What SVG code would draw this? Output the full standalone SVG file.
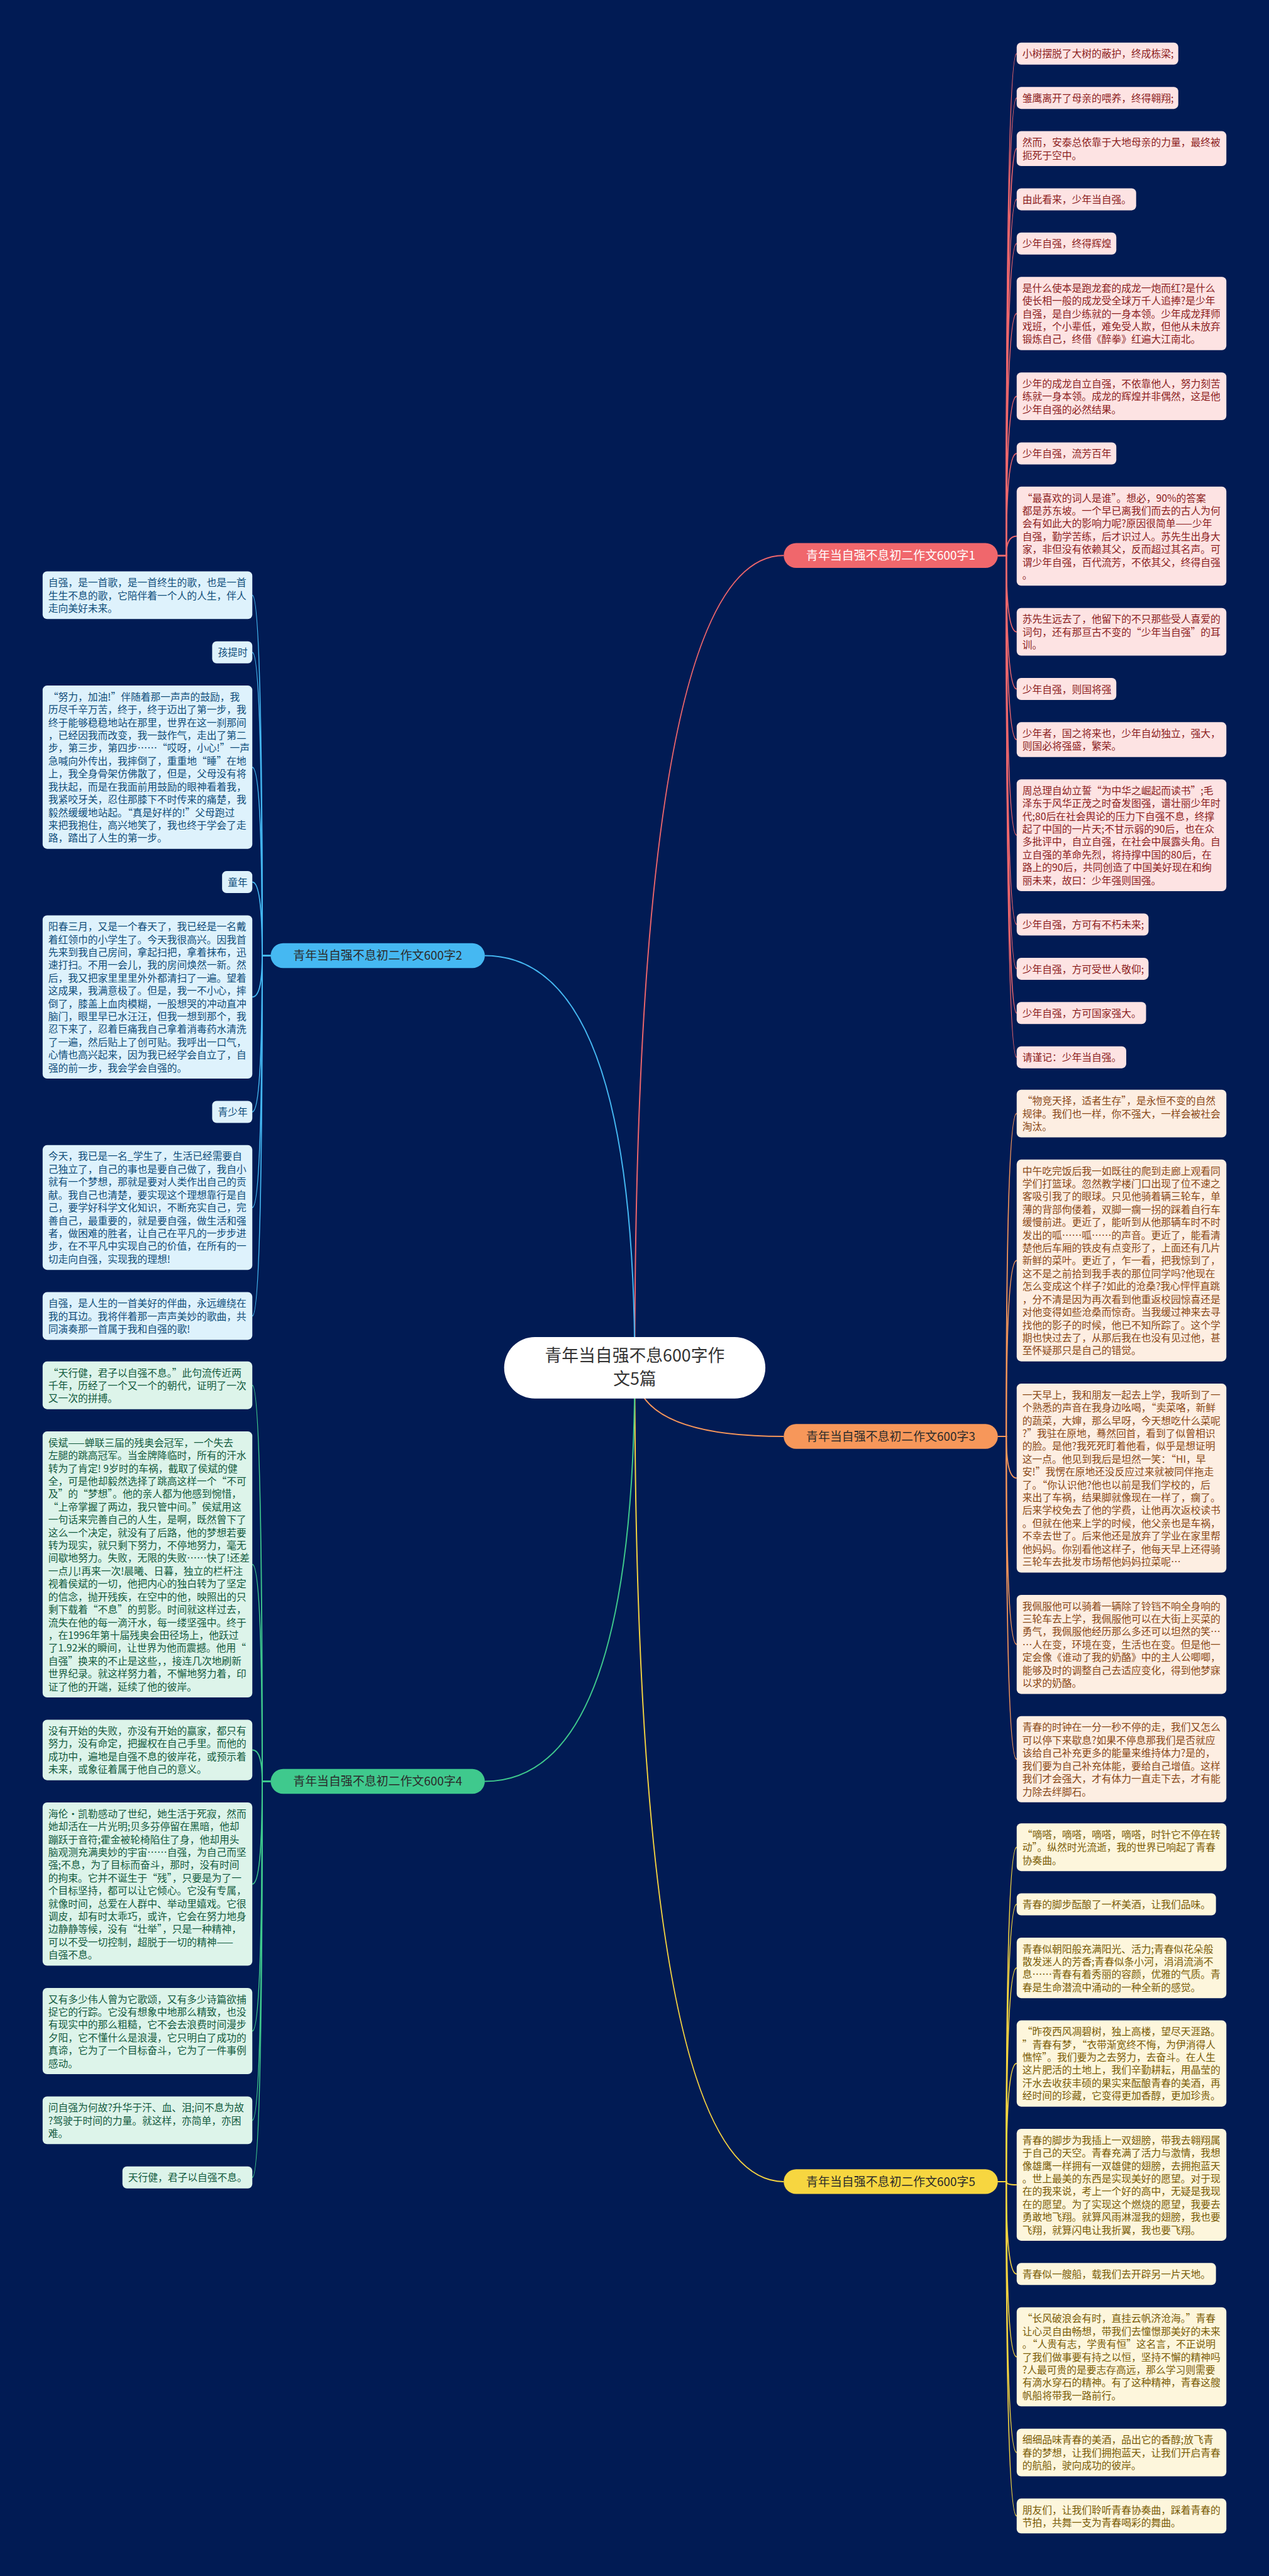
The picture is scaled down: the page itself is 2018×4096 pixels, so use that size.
<svg xmlns="http://www.w3.org/2000/svg" width="2018" height="4096" viewBox="0 0 2018 4096">
<style>
.t{font-family:"Noto Sans CJK SC","Noto Sans",sans-serif;font-size:20px}
.p{font-family:"Noto Sans CJK SC","Noto Sans",sans-serif;font-size:24px;text-anchor:middle}
.ln{fill:none;stroke-width:2.5}
.l1{stroke:#f0676c}.l2{stroke:#45b8f2}.l3{stroke:#f7975a}.l4{stroke:#3fc98d}.l5{stroke:#f7d640}
.k1 rect{fill:#fde3e3}.k1 text{fill:#8c1d1d}
.k2 rect{fill:#def2fc}.k2 text{fill:#0f4d7a}
.k3 rect{fill:#fdeee2}.k3 text{fill:#8a4816}
.k4 rect{fill:#ddf4ea}.k4 text{fill:#125a3e}
.k5 rect{fill:#fdf6dc}.k5 text{fill:#7a5c06}
</style>
<rect width="2018" height="4096" fill="#011b54"/>
<g transform="scale(0.78828)">
<g id="connectors">
<path class="ln l1" d="M1280.5 2759 Q1280.5 1120.45 1581 1120.45"/>
<path class="ln l3" d="M1280.5 2759 Q1280.5 2897.4 1581 2897.4"/>
<path class="ln l5" d="M1280.5 2759 Q1280.5 4400.6 1581 4400.6"/>
<path class="ln l2" d="M1280.5 2759 Q1280.5 1927.55 978 1927.55"/>
<path class="ln l4" d="M1280.5 2759 Q1280.5 3593.25 978 3593.25"/>
<g class="ln l1">
<path d="M2013 1120.45 H2030 Q2030 108.2 2051 108.2"/>
<path d="M2013 1120.45 H2030 Q2030 197.5 2051 197.5"/>
<path d="M2013 1120.45 H2030 Q2030 299.75 2051 299.75"/>
<path d="M2013 1120.45 H2030 Q2030 402 2051 402"/>
<path d="M2013 1120.45 H2030 Q2030 491.3 2051 491.3"/>
<path d="M2013 1120.45 H2030 Q2030 632.4 2051 632.4"/>
<path d="M2013 1120.45 H2030 Q2030 799.4 2051 799.4"/>
<path d="M2013 1120.45 H2030 Q2030 914.6 2051 914.6"/>
<path d="M2013 1120.45 H2030 Q2030 1081.6 2051 1081.6"/>
<path d="M2013 1120.45 H2030 Q2030 1274.5 2051 1274.5"/>
<path d="M2013 1120.45 H2030 Q2030 1389.7 2051 1389.7"/>
<path d="M2013 1120.45 H2030 Q2030 1491.95 2051 1491.95"/>
<path d="M2013 1120.45 H2030 Q2030 1684.85 2051 1684.85"/>
<path d="M2013 1120.45 H2030 Q2030 1864.8 2051 1864.8"/>
<path d="M2013 1120.45 H2030 Q2030 1954.1 2051 1954.1"/>
<path d="M2013 1120.45 H2030 Q2030 2043.4 2051 2043.4"/>
<path d="M2013 1120.45 H2030 Q2030 2132.7 2051 2132.7"/>
</g>
<g class="ln l3">
<path d="M2013 2897.4 H2030 Q2030 2246.1 2051 2246.1"/>
<path d="M2013 2897.4 H2030 Q2030 2542.6 2051 2542.6"/>
<path d="M2013 2897.4 H2030 Q2030 2981.55 2051 2981.55"/>
<path d="M2013 2897.4 H2030 Q2030 3316.9 2051 3316.9"/>
<path d="M2013 2897.4 H2030 Q2030 3548.65 2051 3548.65"/>
</g>
<g class="ln l5">
<path d="M2013 4400.6 H2030 Q2030 3726.1 2051 3726.1"/>
<path d="M2013 4400.6 H2030 Q2030 3841.3 2051 3841.3"/>
<path d="M2013 4400.6 H2030 Q2030 3969.45 2051 3969.45"/>
<path d="M2013 4400.6 H2030 Q2030 4162.35 2051 4162.35"/>
<path d="M2013 4400.6 H2030 Q2030 4407.05 2051 4407.05"/>
<path d="M2013 4400.6 H2030 Q2030 4587 2051 4587"/>
<path d="M2013 4400.6 H2030 Q2030 4754 2051 4754"/>
<path d="M2013 4400.6 H2030 Q2030 4946.9 2051 4946.9"/>
<path d="M2013 4400.6 H2030 Q2030 5075.05 2051 5075.05"/>
</g>
<g class="ln l2">
<path d="M546 1927.55 H529 Q529 1200.6 509 1200.6"/>
<path d="M546 1927.55 H529 Q529 1315.8 509 1315.8"/>
<path d="M546 1927.55 H529 Q529 1547.55 509 1547.55"/>
<path d="M546 1927.55 H529 Q529 1779.3 509 1779.3"/>
<path d="M546 1927.55 H529 Q529 2011.05 509 2011.05"/>
<path d="M546 1927.55 H529 Q529 2242.8 509 2242.8"/>
<path d="M546 1927.55 H529 Q529 2435.7 509 2435.7"/>
<path d="M546 1927.55 H529 Q529 2654.5 509 2654.5"/>
</g>
<g class="ln l4">
<path d="M546 3593.25 H529 Q529 2794.4 509 2794.4"/>
<path d="M546 3593.25 H529 Q529 3155.65 509 3155.65"/>
<path d="M546 3593.25 H529 Q529 3529.85 509 3529.85"/>
<path d="M546 3593.25 H529 Q529 3800.45 509 3800.45"/>
<path d="M546 3593.25 H529 Q529 4096.95 509 4096.95"/>
<path d="M546 3593.25 H529 Q529 4276.9 509 4276.9"/>
<path d="M546 3593.25 H529 Q529 4392.1 509 4392.1"/>
</g>
</g>

<g id="center">
<rect x="1017" y="2697" width="527" height="124" rx="62" fill="#ffffff"/>
<text font-family="Noto Sans CJK SC, sans-serif" font-size="34" fill="#333333" text-anchor="middle"><tspan x="1280.5" y="2747">青年当自强不息600字作</tspan><tspan x="1280.5" y="2793">文5篇</tspan></text>
</g>

<g id="topic1"><rect x="1581" y="1095.45" width="432" height="50" rx="25" fill="#f0676c"/><text class="p" x="1797" y="1129" fill="#ffffff">青年当自强不息初二作文600字1</text></g>
<g id="topic3"><rect x="1581" y="2872.4" width="432" height="50" rx="25" fill="#f7975a"/><text class="p" x="1797" y="2906" fill="#2b2b2b">青年当自强不息初二作文600字3</text></g>
<g id="topic5"><rect x="1581" y="4375.6" width="432" height="50" rx="25" fill="#f7d640"/><text class="p" x="1797" y="4409" fill="#2b2b2b">青年当自强不息初二作文600字5</text></g>
<g id="topic2"><rect x="546" y="1902.55" width="432" height="50" rx="25" fill="#45b8f2"/><text class="p" x="762" y="1936" fill="#2b2b2b">青年当自强不息初二作文600字2</text></g>
<g id="topic4"><rect x="546" y="3568.25" width="432" height="50" rx="25" fill="#3fc98d"/><text class="p" x="762" y="3602" fill="#2b2b2b">青年当自强不息初二作文600字4</text></g>

<g id="b1" class="k1">
<g id="n1-1"><rect x="2051" y="86" width="326" height="44.4" rx="9"/><text class="t"><tspan x="2062.5" y="116">小树摆脱了大树的蔽护，终成栋梁;</tspan></text></g>
<g id="n1-2"><rect x="2051" y="175.3" width="326" height="44.4" rx="9"/><text class="t"><tspan x="2062.5" y="205.3">雏鹰离开了母亲的喂养，终得翱翔;</tspan></text></g>
<g id="n1-3"><rect x="2051" y="264.6" width="423" height="70.3" rx="9"/><text class="t"><tspan x="2062.5" y="294.6">然而，安泰总依靠于大地母亲的力量，最终被</tspan><tspan x="2062.5" y="320.5">扼死于空中。</tspan></text></g>
<g id="n1-4"><rect x="2051" y="379.8" width="241" height="44.4" rx="9"/><text class="t"><tspan x="2062.5" y="409.8">由此看来，少年当自强。</tspan></text></g>
<g id="n1-5"><rect x="2051" y="469.1" width="201" height="44.4" rx="9"/><text class="t"><tspan x="2062.5" y="499.1">少年自强，终得辉煌</tspan></text></g>
<g id="n1-6"><rect x="2051" y="558.4" width="423" height="148" rx="9"/><text class="t"><tspan x="2062.5" y="588.4">是什么使本是跑龙套的成龙一炮而红?是什么</tspan><tspan x="2062.5" y="614.3">使长相一般的成龙受全球万千人追捧?是少年</tspan><tspan x="2062.5" y="640.2">自强，是自少练就的一身本领。少年成龙拜师</tspan><tspan x="2062.5" y="666.1">戏班，个小辈低，难免受人欺，但他从未放弃</tspan><tspan x="2062.5" y="692">锻炼自己，终借《醉拳》红遍大江南北。</tspan></text></g>
<g id="n1-7"><rect x="2051" y="751.3" width="423" height="96.2" rx="9"/><text class="t"><tspan x="2062.5" y="781.3">少年的成龙自立自强，不依靠他人，努力刻苦</tspan><tspan x="2062.5" y="807.2">练就一身本领。成龙的辉煌并非偶然，这是他</tspan><tspan x="2062.5" y="833.1">少年自强的必然结果。</tspan></text></g>
<g id="n1-8"><rect x="2051" y="892.4" width="201" height="44.4" rx="9"/><text class="t"><tspan x="2062.5" y="922.4">少年自强，流芳百年</tspan></text></g>
<g id="n1-9"><rect x="2051" y="981.7" width="423" height="199.8" rx="9"/><text class="t"><tspan x="2062.5" y="1011.7">“最喜欢的词人是谁”。想必，90%的答案</tspan><tspan x="2062.5" y="1037.6">都是苏东坡。一个早已离我们而去的古人为何</tspan><tspan x="2062.5" y="1063.5">会有如此大的影响力呢?原因很简单——少年</tspan><tspan x="2062.5" y="1089.4">自强，勤学苦练，后才识过人。苏先生出身大</tspan><tspan x="2062.5" y="1115.3">家，非但没有依赖其父，反而超过其名声。可</tspan><tspan x="2062.5" y="1141.2">谓少年自强，百代流芳，不依其父，终得自强</tspan><tspan x="2062.5" y="1167.1">。</tspan></text></g>
<g id="n1-10"><rect x="2051" y="1226.4" width="423" height="96.2" rx="9"/><text class="t"><tspan x="2062.5" y="1256.4">苏先生远去了，他留下的不只那些受人喜爱的</tspan><tspan x="2062.5" y="1282.3">词句，还有那亘古不变的“少年当自强”的耳</tspan><tspan x="2062.5" y="1308.2">训。</tspan></text></g>
<g id="n1-11"><rect x="2051" y="1367.5" width="201" height="44.4" rx="9"/><text class="t"><tspan x="2062.5" y="1397.5">少年自强，则国将强</tspan></text></g>
<g id="n1-12"><rect x="2051" y="1456.8" width="423" height="70.3" rx="9"/><text class="t"><tspan x="2062.5" y="1486.8">少年者，国之将来也，少年自幼独立，强大，</tspan><tspan x="2062.5" y="1512.7">则国必将强盛，繁荣。</tspan></text></g>
<g id="n1-13"><rect x="2051" y="1572" width="423" height="225.7" rx="9"/><text class="t"><tspan x="2062.5" y="1602">周总理自幼立誓“为中华之崛起而读书”;毛</tspan><tspan x="2062.5" y="1627.9">泽东于风华正茂之时奋发图强，谱壮丽少年时</tspan><tspan x="2062.5" y="1653.8">代;80后在社会舆论的压力下自强不息，终撑</tspan><tspan x="2062.5" y="1679.7">起了中国的一片天;不甘示弱的90后，也在众</tspan><tspan x="2062.5" y="1705.6">多批评中，自立自强，在社会中展露头角。自</tspan><tspan x="2062.5" y="1731.5">立自强的革命先烈，将持撑中国的80后，在</tspan><tspan x="2062.5" y="1757.4">路上的90后，共同创造了中国美好现在和绚</tspan><tspan x="2062.5" y="1783.3">丽未来，故曰：少年强则国强。</tspan></text></g>
<g id="n1-14"><rect x="2051" y="1842.6" width="266" height="44.4" rx="9"/><text class="t"><tspan x="2062.5" y="1872.6">少年自强，方可有不朽未来;</tspan></text></g>
<g id="n1-15"><rect x="2051" y="1931.9" width="266" height="44.4" rx="9"/><text class="t"><tspan x="2062.5" y="1961.9">少年自强，方可受世人敬仰;</tspan></text></g>
<g id="n1-16"><rect x="2051" y="2021.2" width="261" height="44.4" rx="9"/><text class="t"><tspan x="2062.5" y="2051.2">少年自强，方可国家强大。</tspan></text></g>
<g id="n1-17"><rect x="2051" y="2110.5" width="221" height="44.4" rx="9"/><text class="t"><tspan x="2062.5" y="2140.5">请谨记：少年当自强。</tspan></text></g>
</g>

<g id="b3" class="k3">
<g id="n3-1"><rect x="2051" y="2198" width="423" height="96.2" rx="9"/><text class="t"><tspan x="2062.5" y="2228">“物竞天择，适者生存”，是永恒不变的自然</tspan><tspan x="2062.5" y="2253.9">规律。我们也一样，你不强大，一样会被社会</tspan><tspan x="2062.5" y="2279.8">淘汰。</tspan></text></g>
<g id="n3-2"><rect x="2051" y="2339.1" width="423" height="407" rx="9"/><text class="t"><tspan x="2062.5" y="2369.1">中午吃完饭后我一如既往的爬到走廊上观看同</tspan><tspan x="2062.5" y="2395">学们打篮球。忽然教学楼门口出现了位不速之</tspan><tspan x="2062.5" y="2420.9">客吸引我了的眼球。只见他骑着辆三轮车，单</tspan><tspan x="2062.5" y="2446.8">薄的背部佝偻着，双脚一瘸一拐的踩着自行车</tspan><tspan x="2062.5" y="2472.7">缓慢前进。更近了，能听到从他那辆车时不时</tspan><tspan x="2062.5" y="2498.6">发出的呱……呱……的声音。更近了，能看清</tspan><tspan x="2062.5" y="2524.5">楚他后车厢的铁皮有点变形了，上面还有几片</tspan><tspan x="2062.5" y="2550.4">新鲜的菜叶。更近了，乍一看，把我惊到了，</tspan><tspan x="2062.5" y="2576.3">这不是之前拾到我手表的那位同学吗?他现在</tspan><tspan x="2062.5" y="2602.2">怎么变成这个样子?如此的沧桑?我心怦怦直跳</tspan><tspan x="2062.5" y="2628.1">，分不清是因为再次看到他重返校园惊喜还是</tspan><tspan x="2062.5" y="2654">对他变得如些沧桑而惊奇。当我缓过神来去寻</tspan><tspan x="2062.5" y="2679.9">找他的影子的时候，他已不知所踪了。这个学</tspan><tspan x="2062.5" y="2705.8">期也快过去了，从那后我在也没有见过他，甚</tspan><tspan x="2062.5" y="2731.7">至怀疑那只是自己的错觉。</tspan></text></g>
<g id="n3-3"><rect x="2051" y="2791" width="423" height="381.1" rx="9"/><text class="t"><tspan x="2062.5" y="2821">一天早上，我和朋友一起去上学，我听到了一</tspan><tspan x="2062.5" y="2846.9">个熟悉的声音在我身边吆喝，“卖菜咯，新鲜</tspan><tspan x="2062.5" y="2872.8">的蔬菜，大婶，那么早呀，今天想吃什么菜呢</tspan><tspan x="2062.5" y="2898.7">?”我驻在原地，蓦然回首，看到了似曾相识</tspan><tspan x="2062.5" y="2924.6">的脸。是他?我死死盯着他看，似乎是想证明</tspan><tspan x="2062.5" y="2950.5">这一点。他见到我后是坦然一笑：“HI，早</tspan><tspan x="2062.5" y="2976.4">安!”我愣在原地还没反应过来就被同伴拖走</tspan><tspan x="2062.5" y="3002.3">了。“你认识他?他也以前是我们学校的，后</tspan><tspan x="2062.5" y="3028.2">来出了车祸，结果脚就像现在一样了，瘸了。</tspan><tspan x="2062.5" y="3054.1">后来学校免去了他的学费，让他再次返校读书</tspan><tspan x="2062.5" y="3080">。但就在他来上学的时候，他父亲也是车祸，</tspan><tspan x="2062.5" y="3105.9">不幸去世了。后来他还是放弃了学业在家里帮</tspan><tspan x="2062.5" y="3131.8">他妈妈。你别看他这样子，他每天早上还得骑</tspan><tspan x="2062.5" y="3157.7">三轮车去批发市场帮他妈妈拉菜呢…</tspan></text></g>
<g id="n3-4"><rect x="2051" y="3217" width="423" height="199.8" rx="9"/><text class="t"><tspan x="2062.5" y="3247">我佩服他可以骑着一辆除了铃铛不响全身响的</tspan><tspan x="2062.5" y="3272.9">三轮车去上学，我佩服他可以在大街上买菜的</tspan><tspan x="2062.5" y="3298.8">勇气，我佩服他经历那么多还可以坦然的笑…</tspan><tspan x="2062.5" y="3324.7">…人在变，环境在变，生活也在变。但是他一</tspan><tspan x="2062.5" y="3350.6">定会像《谁动了我的奶酪》中的主人公唧唧，</tspan><tspan x="2062.5" y="3376.5">能够及时的调整自己去适应变化，得到他梦寐</tspan><tspan x="2062.5" y="3402.4">以求的奶酪。</tspan></text></g>
<g id="n3-5"><rect x="2051" y="3461.7" width="423" height="173.9" rx="9"/><text class="t"><tspan x="2062.5" y="3491.7">青春的时钟在一分一秒不停的走，我们又怎么</tspan><tspan x="2062.5" y="3517.6">可以停下来歇息?如果不停息那我们是否就应</tspan><tspan x="2062.5" y="3543.5">该给自己补充更多的能量来维持体力?是的，</tspan><tspan x="2062.5" y="3569.4">我们要为自己补充体能，要给自己增值。这样</tspan><tspan x="2062.5" y="3595.3">我们才会强大，才有体力一直走下去，才有能</tspan><tspan x="2062.5" y="3621.2">力除去绊脚石。</tspan></text></g>
</g>

<g id="b5" class="k5">
<g id="n5-1"><rect x="2051" y="3678" width="423" height="96.2" rx="9"/><text class="t"><tspan x="2062.5" y="3708">“嘀嗒，嘀嗒，嘀嗒，嘀嗒，时针它不停在转</tspan><tspan x="2062.5" y="3733.9">动”。纵然时光流逝，我的世界已响起了青春</tspan><tspan x="2062.5" y="3759.8">协奏曲。</tspan></text></g>
<g id="n5-2"><rect x="2051" y="3819.1" width="402" height="44.4" rx="9"/><text class="t"><tspan x="2062.5" y="3849.1">青春的脚步酝酿了一杯美酒，让我们品味。</tspan></text></g>
<g id="n5-3"><rect x="2051" y="3908.4" width="423" height="122.1" rx="9"/><text class="t"><tspan x="2062.5" y="3938.4">青春似朝阳般充满阳光、活力;青春似花朵般</tspan><tspan x="2062.5" y="3964.3">散发迷人的芳香;青春似条小河，涓涓流淌不</tspan><tspan x="2062.5" y="3990.2">息……青春有着秀丽的容颜，优雅的气质。青</tspan><tspan x="2062.5" y="4016.1">春是生命潜流中涌动的一种全新的感觉。</tspan></text></g>
<g id="n5-4"><rect x="2051" y="4075.4" width="423" height="173.9" rx="9"/><text class="t"><tspan x="2062.5" y="4105.4">“昨夜西风凋碧树，独上高楼，望尽天涯路。</tspan><tspan x="2062.5" y="4131.3">”青春有梦，“衣带渐宽终不悔，为伊消得人</tspan><tspan x="2062.5" y="4157.2">憔悴”。我们要为之去努力，去奋斗。在人生</tspan><tspan x="2062.5" y="4183.1">这片肥活的土地上，我们辛勤耕耘，用晶莹的</tspan><tspan x="2062.5" y="4209">汗水去收获丰硕的果实来酝酿青春的美酒，再</tspan><tspan x="2062.5" y="4234.9">经时间的珍藏，它变得更加香醇，更加珍贵。</tspan></text></g>
<g id="n5-5"><rect x="2051" y="4294.2" width="423" height="225.7" rx="9"/><text class="t"><tspan x="2062.5" y="4324.2">青春的脚步为我插上一双翅膀，带我去翱翔属</tspan><tspan x="2062.5" y="4350.1">于自己的天空。青春充满了活力与激情，我想</tspan><tspan x="2062.5" y="4376">像雄鹰一样拥有一双雄健的翅膀，去拥抱蓝天</tspan><tspan x="2062.5" y="4401.9">。世上最美的东西是实现美好的愿望。对于现</tspan><tspan x="2062.5" y="4427.8">在的我来说，考上一个好的高中，无疑是我现</tspan><tspan x="2062.5" y="4453.7">在的愿望。为了实现这个燃烧的愿望，我要去</tspan><tspan x="2062.5" y="4479.6">勇敢地飞翔。就算风雨淋湿我的翅膀，我也要</tspan><tspan x="2062.5" y="4505.5">飞翔，就算闪电让我折翼，我也要飞翔。</tspan></text></g>
<g id="n5-6"><rect x="2051" y="4564.8" width="402" height="44.4" rx="9"/><text class="t"><tspan x="2062.5" y="4594.8">青春似一艘船，载我们去开辟另一片天地。</tspan></text></g>
<g id="n5-7"><rect x="2051" y="4654.1" width="423" height="199.8" rx="9"/><text class="t"><tspan x="2062.5" y="4684.1">“长风破浪会有时，直挂云帆济沧海。”青春</tspan><tspan x="2062.5" y="4710">让心灵自由畅想，带我们去憧憬那美好的未来</tspan><tspan x="2062.5" y="4735.9">。“人贵有志，学贵有恒”这名言，不正说明</tspan><tspan x="2062.5" y="4761.8">了我们做事要有持之以恒，坚持不懈的精神吗</tspan><tspan x="2062.5" y="4787.7">?人最可贵的是要志存高远，那么学习则需要</tspan><tspan x="2062.5" y="4813.6">有滴水穿石的精神。有了这种精神，青春这艘</tspan><tspan x="2062.5" y="4839.5">帆船将带我一路前行。</tspan></text></g>
<g id="n5-8"><rect x="2051" y="4898.8" width="423" height="96.2" rx="9"/><text class="t"><tspan x="2062.5" y="4928.8">细细品味青春的美酒，品出它的香醇;放飞青</tspan><tspan x="2062.5" y="4954.7">春的梦想，让我们拥抱蓝天，让我们开启青春</tspan><tspan x="2062.5" y="4980.6">的航船，驶向成功的彼岸。</tspan></text></g>
<g id="n5-9"><rect x="2051" y="5039.9" width="423" height="70.3" rx="9"/><text class="t"><tspan x="2062.5" y="5069.9">朋友们，让我们聆听青春协奏曲，踩着青春的</tspan><tspan x="2062.5" y="5095.8">节拍，共舞一支为青春喝彩的舞曲。</tspan></text></g>
</g>

<g id="b2" class="k2">
<g id="n2-1"><rect x="86" y="1152.5" width="423" height="96.2" rx="9"/><text class="t"><tspan x="97.5" y="1182.5">自强，是一首歌，是一首终生的歌，也是一首</tspan><tspan x="97.5" y="1208.4">生生不息的歌，它陪伴着一个人的人生，伴人</tspan><tspan x="97.5" y="1234.3">走向美好未来。</tspan></text></g>
<g id="n2-2"><rect x="428" y="1293.6" width="81" height="44.4" rx="9"/><text class="t"><tspan x="439.5" y="1323.6">孩提时</tspan></text></g>
<g id="n2-3"><rect x="86" y="1382.9" width="423" height="329.3" rx="9"/><text class="t"><tspan x="97.5" y="1412.9">“努力，加油!”伴随着那一声声的鼓励，我</tspan><tspan x="97.5" y="1438.8">历尽千辛万苦，终于，终于迈出了第一步，我</tspan><tspan x="97.5" y="1464.7">终于能够稳稳地站在那里，世界在这一刹那间</tspan><tspan x="97.5" y="1490.6">，已经因我而改变，我一鼓作气，走出了第二</tspan><tspan x="97.5" y="1516.5">步，第三步，第四步……“哎呀，小心!”一声</tspan><tspan x="97.5" y="1542.4">急喊向外传出，我摔倒了，重重地“睡”在地</tspan><tspan x="97.5" y="1568.3">上，我全身骨架仿佛散了，但是，父母没有将</tspan><tspan x="97.5" y="1594.2">我扶起，而是在我面前用鼓励的眼神看着我，</tspan><tspan x="97.5" y="1620.1">我紧咬牙关，忍住那膝下不时传来的痛楚，我</tspan><tspan x="97.5" y="1646">毅然缓缓地站起。“真是好样的!”父母跑过</tspan><tspan x="97.5" y="1671.9">来把我抱住，高兴地笑了，我也终于学会了走</tspan><tspan x="97.5" y="1697.8">路，踏出了人生的第一步。</tspan></text></g>
<g id="n2-4"><rect x="448" y="1757.1" width="61" height="44.4" rx="9"/><text class="t"><tspan x="459.5" y="1787.1">童年</tspan></text></g>
<g id="n2-5"><rect x="86" y="1846.4" width="423" height="329.3" rx="9"/><text class="t"><tspan x="97.5" y="1876.4">阳春三月，又是一个春天了，我已经是一名戴</tspan><tspan x="97.5" y="1902.3">着红领巾的小学生了。今天我很高兴。因我首</tspan><tspan x="97.5" y="1928.2">先来到我自己房间，拿起扫把，拿着抹布，迅</tspan><tspan x="97.5" y="1954.1">速打扫。不用一会儿，我的房间焕然一新。然</tspan><tspan x="97.5" y="1980">后，我又把家里里里外外都清扫了一遍。望着</tspan><tspan x="97.5" y="2005.9">这成果，我满意极了。但是，我一不小心，摔</tspan><tspan x="97.5" y="2031.8">倒了，膝盖上血肉模糊，一股想哭的冲动直冲</tspan><tspan x="97.5" y="2057.7">脑门，眼里早已水汪汪，但我一想到那个，我</tspan><tspan x="97.5" y="2083.6">忍下来了，忍着巨痛我自己拿着消毒药水清洗</tspan><tspan x="97.5" y="2109.5">了一遍，然后贴上了创可贴。我呼出一口气，</tspan><tspan x="97.5" y="2135.4">心情也高兴起来，因为我已经学会自立了，自</tspan><tspan x="97.5" y="2161.3">强的前一步，我会学会自强的。</tspan></text></g>
<g id="n2-6"><rect x="428" y="2220.6" width="81" height="44.4" rx="9"/><text class="t"><tspan x="439.5" y="2250.6">青少年</tspan></text></g>
<g id="n2-7"><rect x="86" y="2309.9" width="423" height="251.6" rx="9"/><text class="t"><tspan x="97.5" y="2339.9">今天，我已是一名_学生了，生活已经需要自</tspan><tspan x="97.5" y="2365.8">己独立了，自己的事也是要自己做了，我自小</tspan><tspan x="97.5" y="2391.7">就有一个梦想，那就是要对人类作出自己的贡</tspan><tspan x="97.5" y="2417.6">献。我自己也清楚，要实现这个理想靠行是自</tspan><tspan x="97.5" y="2443.5">己，要学好科学文化知识，不断充实自己，完</tspan><tspan x="97.5" y="2469.4">善自己，最重要的，就是要自强，做生活和强</tspan><tspan x="97.5" y="2495.3">者，做困难的胜者，让自己在平凡的一步步进</tspan><tspan x="97.5" y="2521.2">步，在不平凡中实现自己的价值，在所有的一</tspan><tspan x="97.5" y="2547.1">切走向自强，实现我的理想!</tspan></text></g>
<g id="n2-8"><rect x="86" y="2606.4" width="423" height="96.2" rx="9"/><text class="t"><tspan x="97.5" y="2636.4">自强，是人生的一首美好的伴曲，永远缠绕在</tspan><tspan x="97.5" y="2662.3">我的耳边。我将伴着那一声声美妙的歌曲，共</tspan><tspan x="97.5" y="2688.2">同演奏那一首属于我和自强的歌!</tspan></text></g>
</g>

<g id="b4" class="k4">
<g id="n4-1"><rect x="86" y="2746.3" width="423" height="96.2" rx="9"/><text class="t"><tspan x="97.5" y="2776.3">“天行健，君子以自强不息。”此句流传近两</tspan><tspan x="97.5" y="2802.2">千年，历经了一个又一个的朝代，证明了一次</tspan><tspan x="97.5" y="2828.1">又一次的拼搏。</tspan></text></g>
<g id="n4-2"><rect x="86" y="2887.4" width="423" height="536.5" rx="9"/><text class="t"><tspan x="97.5" y="2917.4">侯斌——蝉联三届的残奥会冠军，一个失去</tspan><tspan x="97.5" y="2943.3">左腿的跳高冠军。当金牌降临时，所有的汗水</tspan><tspan x="97.5" y="2969.2">转为了肯定! 9岁时的车祸，截取了侯斌的健</tspan><tspan x="97.5" y="2995.1">全，可是他却毅然选择了跳高这样一个“不可</tspan><tspan x="97.5" y="3021">及”的“梦想”。他的亲人都为他感到惋惜，</tspan><tspan x="97.5" y="3046.9">“上帝掌握了两边，我只管中间。”侯斌用这</tspan><tspan x="97.5" y="3072.8">一句话来完善自己的人生，是啊，既然曾下了</tspan><tspan x="97.5" y="3098.7">这么一个决定，就没有了后路，他的梦想若要</tspan><tspan x="97.5" y="3124.6">转为现实，就只剩下努力，不停地努力，毫无</tspan><tspan x="97.5" y="3150.5">间歇地努力。失败，无限的失败……快了!还差</tspan><tspan x="97.5" y="3176.4">一点儿!再来一次!晨曦、日暮，独立的栏杆注</tspan><tspan x="97.5" y="3202.3">视着侯斌的一切，他把内心的独白转为了坚定</tspan><tspan x="97.5" y="3228.2">的信念，抛开残疾，在空中的他，映照出的只</tspan><tspan x="97.5" y="3254.1">剩下载着“不息”的剪影。时间就这样过去，</tspan><tspan x="97.5" y="3280">流失在他的每一滴汗水，每一缕坚强中。终于</tspan><tspan x="97.5" y="3305.9">，在1996年第十届残奥会田径场上，他跃过</tspan><tspan x="97.5" y="3331.8">了1.92米的瞬间，让世界为他而震撼。他用“</tspan><tspan x="97.5" y="3357.7">自强”换来的不止是这些，，接连几次地刷新</tspan><tspan x="97.5" y="3383.6">世界纪录。就这样努力着，不懈地努力着，印</tspan><tspan x="97.5" y="3409.5">证了他的开端，延续了他的彼岸。</tspan></text></g>
<g id="n4-3"><rect x="86" y="3468.8" width="423" height="122.1" rx="9"/><text class="t"><tspan x="97.5" y="3498.8">没有开始的失败，亦没有开始的赢家，都只有</tspan><tspan x="97.5" y="3524.7">努力，没有命定，把握权在自己手里。而他的</tspan><tspan x="97.5" y="3550.6">成功中，遍地是自强不息的彼岸花，或预示着</tspan><tspan x="97.5" y="3576.5">未来，或象征着属于他自己的意义。</tspan></text></g>
<g id="n4-4"><rect x="86" y="3635.8" width="423" height="329.3" rx="9"/><text class="t"><tspan x="97.5" y="3665.8">海伦•凯勒感动了世纪，她生活于死寂，然而</tspan><tspan x="97.5" y="3691.7">她却活在一片光明;贝多芬停留在黑暗，他却</tspan><tspan x="97.5" y="3717.6">蹦跃于音符;霍金被轮椅陷住了身，他却用头</tspan><tspan x="97.5" y="3743.5">脑观测充满奥妙的宇宙……自强，为自己而坚</tspan><tspan x="97.5" y="3769.4">强;不息，为了目标而奋斗，那时，没有时间</tspan><tspan x="97.5" y="3795.3">的拘束。它并不诞生于“残”，只要是为了一</tspan><tspan x="97.5" y="3821.2">个目标坚持，都可以让它倾心。它没有专属，</tspan><tspan x="97.5" y="3847.1">就像时间，总爱在人群中、举动里嬉戏。它很</tspan><tspan x="97.5" y="3873">调皮，却有时太乖巧，或许，它会在努力地身</tspan><tspan x="97.5" y="3898.9">边静静等候，没有“壮举”，只是一种精神，</tspan><tspan x="97.5" y="3924.8">可以不受一切控制，超脱于一切的精神——</tspan><tspan x="97.5" y="3950.7">自强不息。</tspan></text></g>
<g id="n4-5"><rect x="86" y="4010" width="423" height="173.9" rx="9"/><text class="t"><tspan x="97.5" y="4040">又有多少伟人曾为它歌颂，又有多少诗篇欲捕</tspan><tspan x="97.5" y="4065.9">捉它的行踪。它没有想象中地那么精致，也没</tspan><tspan x="97.5" y="4091.8">有现实中的那么粗糙，它不会去浪费时间漫步</tspan><tspan x="97.5" y="4117.7">夕阳，它不懂什么是浪漫，它只明白了成功的</tspan><tspan x="97.5" y="4143.6">真谛，它为了一个目标奋斗，它为了一件事例</tspan><tspan x="97.5" y="4169.5">感动。</tspan></text></g>
<g id="n4-6"><rect x="86" y="4228.8" width="423" height="96.2" rx="9"/><text class="t"><tspan x="97.5" y="4258.8">问自强为何故?升华于汗、血、泪;问不息为故</tspan><tspan x="97.5" y="4284.7">?驾驶于时间的力量。就这样，亦简单，亦困</tspan><tspan x="97.5" y="4310.6">难。</tspan></text></g>
<g id="n4-7"><rect x="247" y="4369.9" width="262" height="44.4" rx="9"/><text class="t"><tspan x="258.5" y="4399.9">天行健，君子以自强不息。</tspan></text></g>
</g>
</g>
</svg>
